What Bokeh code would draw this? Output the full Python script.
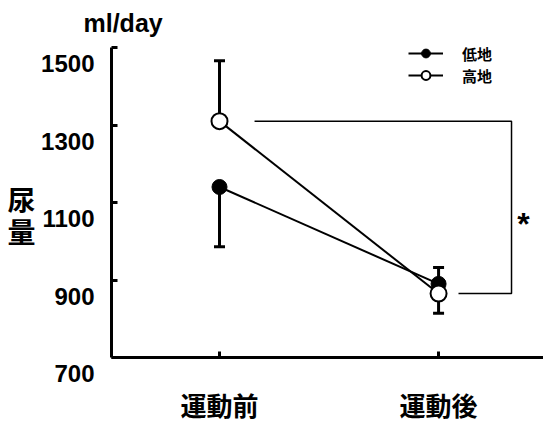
from bokeh.plotting import figure
from bokeh.models import Range1d, FixedTicker, Label, Legend, LegendItem, LinearAxis
from bokeh.embed import file_html
from bokeh.resources import INLINE

# Urine volume before / after exercise, lowland vs highland
phases = ["運動前", "運動後"]
phase_x = [0, 1]
lowland = [1140, 890]
lowland_sd = [154, 42]
highland = [1310, 865]
highland_sd = [156, 51]
series_names = ["低地", "高地"]

y_ticks = [700, 900, 1100, 1300, 1500]
y_tick_labels = ["700", "900", "1100", "1300", "1500"]
unit_label = "ml/day"
y_title = "尿\n量"
sig_mark = "*"

NUM_FONT = "Liberation Sans"
JP_FONT = "Noto Sans CJK JP"
INK = "black"

# frame geometry (pixels)
BORDER_TOP, BORDER_BOTTOM, BORDER_LEFT = 37, 68, 111
AXIS_HEADROOM = 10          # space between frame top and the end of the y spine
AXIS_PX = 310               # length of the y spine

X_START, X_END = -0.493, 1.479
Y_START, Y_AXIS_END = 700, 1500
Y_VIEW_END = Y_AXIS_END + AXIS_HEADROOM * (Y_AXIS_END - Y_START) / AXIS_PX
Y_TITLE_AT = 1068

p = figure(width=543, height=425,
           x_range=Range1d(X_START, X_END), y_range=Range1d(Y_START, Y_VIEW_END),
           output_backend="svg", toolbar_location=None,
           min_border_left=BORDER_LEFT, min_border_right=0,
           min_border_top=BORDER_TOP, min_border_bottom=BORDER_BOTTOM)
p.outline_line_color = None
p.grid.visible = False

# unit label above the y axis
p.title.text = unit_label
p.title.align = "left"
p.title.offset = -28
p.title.standoff = 2
p.title.text_font = NUM_FONT
p.title.text_font_style = "bold"
p.title.text_font_size = "25px"
p.title.text_color = INK

# axes: thick spines, short inward ticks
p.xaxis.ticker = FixedTicker(ticks=phase_x)
p.yaxis.ticker = FixedTicker(ticks=y_ticks)
p.yaxis.bounds = (Y_START, Y_AXIS_END)
for ax in (p.xaxis, p.yaxis):
    ax.axis_line_width = 3
    ax.axis_line_color = INK
    ax.major_tick_line_width = 3
    ax.major_tick_line_color = INK
    ax.major_tick_in = 6
    ax.major_tick_out = 0
    ax.minor_tick_line_color = None
    ax.major_label_text_color = INK

p.xaxis.major_label_overrides = dict(zip(phase_x, phases))
p.xaxis.major_label_text_font = JP_FONT
p.xaxis.major_label_text_font_style = "bold"
p.xaxis.major_label_text_font_size = "26px"
p.xaxis.major_label_standoff = 28

# tick numbers sit half a line below their ticks
p.yaxis.major_label_overrides = {v: "\n" + t for v, t in zip(y_ticks, y_tick_labels)}
p.yaxis.major_label_text_font = NUM_FONT
p.yaxis.major_label_text_font_style = "bold"
p.yaxis.major_label_text_font_size = "24px"
p.yaxis.major_label_text_line_height = 1.19
p.yaxis.major_label_standoff = 17

# stacked vertical axis title
title_axis = LinearAxis(ticker=FixedTicker(ticks=[Y_TITLE_AT]),
                        major_label_overrides={Y_TITLE_AT: y_title},
                        axis_line_color=None, major_tick_line_color=None,
                        minor_tick_line_color=None, major_label_standoff=-3,
                        major_label_text_font=JP_FONT,
                        major_label_text_font_style="bold",
                        major_label_text_font_size="28px",
                        major_label_text_line_height=0.815,
                        major_label_text_color=INK)
p.add_layout(title_axis, "left")


def error_ends(values, sds, other):
    # one-sided bars, pointing away from the other series
    return [v + (s if v > o else -s) for v, s, o in zip(values, sds, other)]


low_ends = error_ends(lowland, lowland_sd, highland)
high_ends = error_ends(highland, highland_sd, lowland)

for vals, ends in ((lowland, low_ends), (highland, high_ends)):
    p.segment(x0=phase_x, y0=vals, x1=phase_x, y1=ends, line_width=3, line_color=INK)
    p.scatter(x=phase_x, y=ends, marker="dash", size=11, line_width=3, line_color=INK)

# significance bracket between the highland points
BRACKET_TOP_X0 = 0.16
BRACKET_BOTTOM_X0 = 1.091
BRACKET_X = 1.333
p.line(x=[BRACKET_TOP_X0, BRACKET_X, BRACKET_X, BRACKET_BOTTOM_X0],
       y=[highland[0], highland[0], highland[1], highland[1]],
       line_width=1.5, line_color=INK)
p.add_layout(Label(x=1.388, y=(highland[0] + highland[1]) / 2, y_offset=-17,
                   text=sig_mark, text_align="center", text_baseline="middle",
                   text_font=NUM_FONT, text_font_style="bold",
                   text_font_size="32px", text_color=INK))

low_line = p.line(phase_x, lowland, line_width=2, line_color=INK)
high_line = p.line(phase_x, highland, line_width=2, line_color=INK)
low_pts = p.scatter(phase_x, lowland, size=15, fill_color=INK, line_color=INK)
high_pts = p.scatter(phase_x, highland, size=16, fill_color="white",
                     line_color=INK, line_width=2)

legend = Legend(items=[LegendItem(label=series_names[0], renderers=[low_line, low_pts]),
                       LegendItem(label=series_names[1], renderers=[high_line, high_pts])],
                location=(297, 271), padding=0, margin=0, spacing=0,
                glyph_width=35, glyph_height=22, label_height=22, label_standoff=19,
                label_text_font=JP_FONT, label_text_font_style="bold",
                label_text_font_size="15px", label_text_color=INK,
                border_line_color=None, background_fill_alpha=0)
p.add_layout(legend)

open("out.html", "w").write(file_html(p, INLINE))
